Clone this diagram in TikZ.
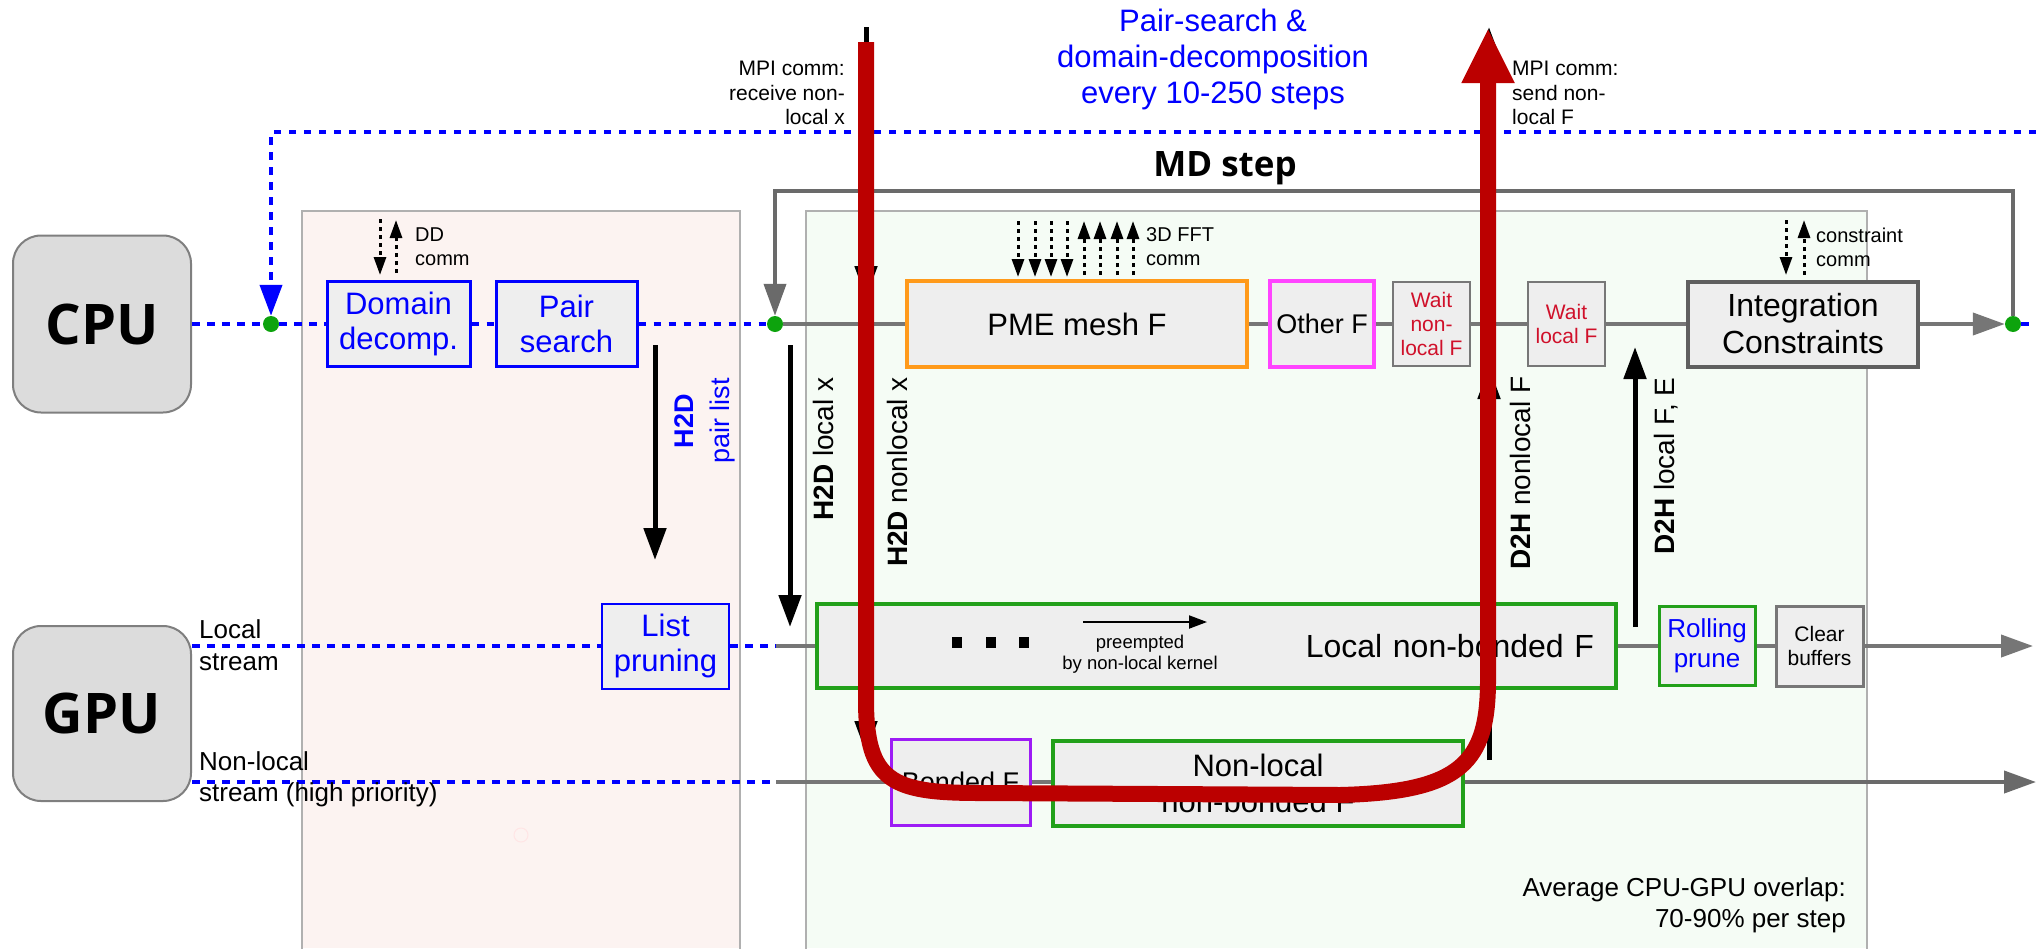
\documentclass[tikz,border=0pt]{standalone}
\usepackage{fontspec}
\setmainfont{Liberation Sans}
\newfontfamily\headfont{Open Sans}
\usetikzlibrary{arrows.meta}
\newcommand\fsz[2]{\fontsize{#1pt}{#2pt}\selectfont}
\definecolor{boxfill}{HTML}{EEEEEE}
\definecolor{cpufill}{HTML}{DCDCDC}
\definecolor{cpugray}{HTML}{7F7F7F}
\definecolor{lgray}{HTML}{767676}
\definecolor{loopgray}{HTML}{6A6A6A}
\definecolor{dotgreen}{HTML}{0DA30D}
\definecolor{pmeor}{HTML}{FF9A1A}
\definecolor{mag}{HTML}{FF44FF}
\definecolor{purp}{HTML}{9D1CF5}
\definecolor{gbord}{HTML}{22A01A}
\definecolor{waitred}{HTML}{D0102A}
\definecolor{redc}{HTML}{BB0000}
\definecolor{pinkbg}{HTML}{FCF3F1}
\definecolor{greenbg}{HTML}{F5FCF5}
\definecolor{regb}{HTML}{B0B0B0}
\definecolor{intgray}{HTML}{5F5F5F}
\definecolor{boxgray}{HTML}{777777}
\definecolor{bl}{HTML}{0000FF}
\begin{document}
\begin{tikzpicture}[x=1pt,y=-1pt,
  box/.style={draw, line width=3pt, fill=boxfill, inner sep=0pt, align=center, text=black},
  gline/.style={draw=lgray, line width=4pt},
  bline/.style={draw=bl, line width=4pt, dash pattern=on 7.5pt off 7.5pt},
  garr/.style={-{Triangle[length=32pt,width=22pt]}},
  darr/.style={draw=black, line width=5pt, -{Triangle[length=32pt,width=22pt]}},
  comm/.style={draw=black, line width=3pt, dash pattern=on 4pt off 4pt, -{Triangle[length=18pt,width=12pt]}},
  dot/.style={circle, fill=dotgreen, inner sep=0pt, minimum size=16pt},
  lbl/.style={inner sep=0pt},
  vlbl/.style={inner sep=0pt, rotate=90, font=\fsz{28}{32}}
]
\useasboundingbox (0,0) rectangle (2036,948);
% regions
\fill[pinkbg] (302,211) rectangle (740,948);
\draw[regb, line width=2pt] (302,950) -- (302,211) -- (740,211) -- (740,950);
\fill[greenbg] (806,211) rectangle (1867,948);
\draw[regb, line width=2pt] (806,950) -- (806,211) -- (1867,211) -- (1867,950);
\draw[pink!40, line width=1pt] (521,835) circle[radius=7pt];

% processor boxes
\node[box, rounded corners=28pt, draw=cpugray, line width=2pt, fill=cpufill, minimum width=178pt, minimum height=177pt, font=\headfont\bfseries\fsz{56}{60}] (cpu) at (102,324) {CPU};
\node[box, rounded corners=28pt, draw=cpugray, line width=2pt, fill=cpufill, minimum width=178pt, minimum height=175pt, font=\headfont\bfseries\fsz{56}{60}] (gpu) at (102,713.5) {GPU};

% CPU row
\node[box, draw=bl, text=bl, minimum width=143pt, minimum height=85pt, font=\fsz{31}{35}] (dd) at (398.5,324) {Domain\\decomp.};
\node[box, draw=bl, text=bl, minimum width=141pt, minimum height=85pt, font=\fsz{31}{35}] (ps) at (566.5,324) {Pair\\search};
\node[box, draw=pmeor, line width=4pt, minimum width=340pt, minimum height=86pt, font=\fsz{31}{35}] (pme) at (1077,324) {PME mesh F};
\node[box, draw=mag, line width=4pt, minimum width=104pt, minimum height=86pt, font=\fsz{27}{31}] (other) at (1322,324) {Other F};
\node[box, draw=boxgray, line width=2.5pt, text=waitred, minimum width=77pt, minimum height=84pt, font=\fsz{21}{24}] (waitnl) at (1431.5,324) {Wait\\non-\\local F};
\node[box, draw=boxgray, line width=2.5pt, text=waitred, minimum width=77pt, minimum height=84pt, font=\fsz{21}{24}] (waitl) at (1566.5,324) {Wait\\local F};
\node[box, draw=intgray, line width=4pt, minimum width=230pt, minimum height=85pt, font=\fsz{32}{37}] (integ) at (1803,324) {Integration\\Constraints};

% GPU local row
\node[box, draw=bl, line width=2pt, text=bl, minimum width=127pt, minimum height=85pt, font=\fsz{31}{35}] (lp) at (665.5,646) {List\\pruning};
\node[box, draw=gbord, line width=4pt, minimum width=799pt, minimum height=84pt, text width=755pt, align=right, font=\fsz{32}{37}] (lnb) at (1216.5,646) {Local non-bonded F};
\node[box, draw=gbord, line width=3pt, text=bl, minimum width=96pt, minimum height=79pt, font=\fsz{26}{30}] (roll) at (1707,646) {Rolling\\prune};
\node[box, draw=boxgray, line width=3pt, minimum width=87pt, minimum height=80pt, font=\fsz{21}{24}] (clear) at (1819.5,646) {Clear\\buffers};

% GPU non-local row
\node[box, draw=purp, line width=3pt, minimum width=139pt, minimum height=86pt, font=\fsz{27}{31}] (bonded) at (960.5,782) {Bonded F};
\node[box, draw=gbord, line width=4pt, minimum width=410pt, minimum height=85pt, font=\fsz{31}{36}] (nlnb) at (1258,783) {Non-local\\non-bonded F};

% dots
\node[dot] (d1) at (271,324) {};
\node[dot] (d2) at (775,324) {};
\node[dot] (d3) at (2013,324) {};

% coordinates
\coordinate (tr) at (2036,132);
\coordinate (top) at (0,191);
\coordinate (end3) at (2036,324);
\coordinate (lsj) at (776,646);
\coordinate (lsend) at (2033,646);
\coordinate (nlj) at (776,782);
\coordinate (nlend) at (2036,782);

% CPU line
\draw[bline] (cpu.east) -- (d1);
\draw[bline] (d1) -- (dd);
\draw[bline] (dd) -- (ps);
\draw[bline] (ps) -- (d2);
\draw[gline] (d2) -- (pme);
\draw[gline] (pme) -- (other);
\draw[gline] (other) -- (waitnl);
\draw[gline] (waitnl) -- (waitl);
\draw[gline] (waitl) -- (integ);
\draw[gline, garr] (integ) -- (d3);
\draw[bline] (d3) -- (end3);
\draw[bline, -{Triangle[length=31pt,width=22pt]}] (tr) -| (d1);
\draw[draw=loopgray, line width=4pt, garr] (d3.north) -- (d3.north |- top) -| (d2);

% GPU local stream
\draw[bline] (gpu.east |- lp.west) -- (lp.west);
\draw[bline] (lp.east) -- (lsj);
\draw[gline] (lsj) -- (lnb.west);
\draw[gline] (lnb.east) -- (roll.west);
\draw[gline] (roll.east) -- (clear.west);
\draw[gline, garr] (clear.east) -- (lsend);

% GPU non-local stream
\draw[bline] (gpu.east |- nlj) -- (nlj);
\draw[gline] (nlj) -- (bonded.west);
\draw[gline] (bonded.east) -- (nlnb.west |- bonded.east);
\draw[draw=loopgray, line width=4pt, garr] (nlnb.east |- nlend) -- (nlend);

% comm arrows
\foreach \x in {380} { \draw[comm] (\x,219) -- (\x,275); }
\foreach \x in {396} { \draw[comm] (\x,273) -- (\x,220); }
\foreach \x in {1018,1035,1051,1067} { \draw[comm] (\x,221) -- (\x,277); }
\foreach \x in {1084,1100,1117,1133} { \draw[comm] (\x,275) -- (\x,221); }
\draw[comm] (1786,220) -- (1786,275);
\draw[comm] (1804,275) -- (1804,220);
\node[lbl, anchor=west, align=left, font=\fsz{20}{24}] (ddc) at (415,247) {DD\\comm};
\node[lbl, anchor=west, align=left, font=\fsz{20}{24}] (fftc) at (1146,247) {3D FFT\\comm};
\node[lbl, anchor=west, align=left, font=\fsz{20}{24}] (conc) at (1816,247) {constraint\\comm};

% transfer arrows
\coordinate (pl0) at (655,345); \coordinate (pl1) at (655,560);
\draw[darr] (pl0) -- (pl1);
\node[vlbl, align=center, text=bl, font=\fsz{27}{36}] (pll) at (705,421) {\textbf{H2D}\\pair list};
\coordinate (lx0) at (790,345); \coordinate (lx1) at (790,627);
\draw[darr] (lx0) -- (lx1);
\node[vlbl] (lxl) at (823,449) {\textbf{H2D} local x};
\node[vlbl] (nxl) at (897,472) {\textbf{H2D} nonlocal x};
\node[vlbl] (nfl) at (1520,473) {\textbf{D2H} nonlocal F};
\coordinate (lf0) at (1635,627); \coordinate (lf1) at (1635,347);
\draw[darr] (lf0) -- (lf1);
\node[vlbl] (lfl) at (1666,466) {\textbf{D2H} local F, E};

% black arrows under the red path
\coordinate (mr0) at (866,27); \coordinate (mr1) at (866,298);
\coordinate (nx0) at (866,330); \coordinate (nx1) at (866,753);
\coordinate (nf0) at (1489,760); \coordinate (nf1) at (1489,367);
\coordinate (ms0) at (1489,300); \coordinate (ms1) at (1489,27);
\draw[darr] (mr0) -- (mr1);
\draw[darr] (nx0) -- (nx1);
\draw[darr] (nf0) -- (nf1);
\draw[darr] (ms0) -- (ms1);

% preempted
\node[fill=black, inner sep=0pt, minimum width=10pt, minimum height=11pt] (sq1) at (957,642) {};
\node[fill=black, inner sep=0pt, minimum width=10pt, minimum height=11pt] (sq2) at (991,642) {};
\node[fill=black, inner sep=0pt, minimum width=10pt, minimum height=11pt] (sq3) at (1024,642) {};
\coordinate (pa0) at (1083,622); \coordinate (pa1) at (1207,622);
\draw[line width=2pt, -{Triangle[length=18pt,width=13pt]}] (pa0) -- (pa1);
\node[lbl, align=center, font=\fsz{18.5}{21}] (pre) at (1140,654) {preempted\\by non-local kernel};

% texts
\node[lbl, align=center, text=bl, font=\fsz{31}{36}] (pstext) at (1213,59) {Pair-search \&\\domain-decomposition\\every 10-250 steps};
\node[lbl, font=\headfont\bfseries\fsz{35}{40}] (md) at (1225,168) {MD step};
\node[lbl, anchor=east, align=right, font=\fsz{21}{24.5}] (mpir) at (845,93) {MPI comm:\\receive non-\\local x};
\node[lbl, anchor=west, align=left, font=\fsz{21}{24.5}] (mpis) at (1512,93) {MPI comm:\\send non-\\local F};
\node[lbl, anchor=west, align=left, font=\fsz{26}{32}] (lsl) at (199,645) {Local\\stream};
\node[lbl, anchor=west, align=left, font=\fsz{26}{31}] (nsl) at (199,779) {Non-local\\stream (high priority)};
\node[lbl, anchor=east, align=right, font=\fsz{26}{31}] (avg) at (1846,905) {Average CPU-GPU overlap:\\70-90\% per step};

% red critical path
\coordinate (r0) at (866,42);
\coordinate (r1) at (1488,28);
\draw[redc, line width=16pt, line join=round, -{Triangle[length=55pt,width=49pt]}]
  (r0) -- (866,700) .. controls (866,782) and (892,793) .. (980,793)
  -- (1340,795) .. controls (1462,792) and (1488,762) .. (1488,680) -- (r1);
\end{tikzpicture}
\end{document}
